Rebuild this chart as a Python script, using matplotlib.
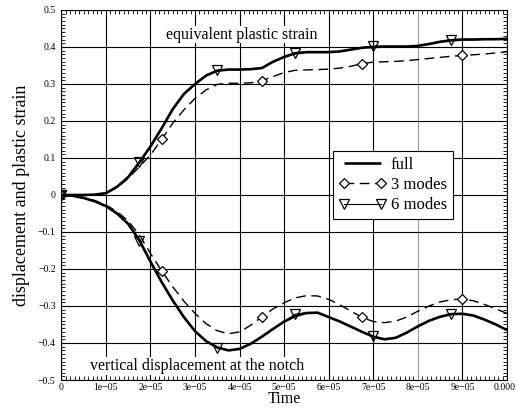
import matplotlib
matplotlib.use("Agg")
import matplotlib.pyplot as plt
import matplotlib.transforms as mtransforms
from matplotlib.ticker import AutoMinorLocator, FixedLocator, FixedFormatter

# sample times (s), step 2.5e-6
time = [k * 2.5e-6 for k in range(41)]

# equivalent plastic strain
strain_full = [0.0, 0.0, 0.0, 0.001, 0.005, 0.022, 0.048, 0.088, 0.131, 0.180,
               0.232, 0.273, 0.300, 0.323, 0.336, 0.339, 0.339, 0.340, 0.343, 0.360,
               0.373, 0.383, 0.386, 0.386, 0.386, 0.388, 0.393, 0.398, 0.400, 0.401,
               0.401, 0.401, 0.403, 0.408, 0.414, 0.418, 0.420, 0.420, 0.421, 0.421,
               0.422]
strain_3 = [0.0, 0.0, 0.0, 0.001, 0.005, 0.020, 0.045, 0.076, 0.108, 0.150,
            0.194, 0.230, 0.261, 0.284, 0.299, 0.302, 0.302, 0.303, 0.309, 0.320,
            0.331, 0.337, 0.338, 0.339, 0.340, 0.343, 0.348, 0.355, 0.359, 0.360,
            0.361, 0.363, 0.366, 0.369, 0.372, 0.375, 0.377, 0.379, 0.381, 0.384,
            0.387]
strain_6 = [0.0, 0.0, 0.0, 0.001, 0.005, 0.022, 0.050, 0.090, 0.132, 0.180,
            0.231, 0.272, 0.299, 0.322, 0.337, 0.339, 0.339, 0.340, 0.344, 0.361,
            0.374, 0.385, 0.386, 0.386, 0.386, 0.388, 0.393, 0.398, 0.402, 0.402,
            0.402, 0.402, 0.404, 0.409, 0.415, 0.420, 0.421, 0.421, 0.421, 0.421,
            0.422]

# vertical displacement at the notch
disp_full = [0.0, -0.002, -0.008, -0.017, -0.030, -0.050, -0.078, -0.122, -0.180, -0.235,
             -0.285, -0.330, -0.368, -0.395, -0.412, -0.420, -0.416, -0.402, -0.383, -0.362,
             -0.342, -0.327, -0.319, -0.318, -0.330, -0.342, -0.356, -0.370, -0.383, -0.390,
             -0.386, -0.372, -0.355, -0.340, -0.329, -0.322, -0.321, -0.326, -0.337, -0.350,
             -0.365]
disp_3 = [0.0, -0.002, -0.007, -0.015, -0.027, -0.045, -0.070, -0.108, -0.158, -0.205,
          -0.248, -0.287, -0.320, -0.348, -0.367, -0.375, -0.370, -0.352, -0.329, -0.308,
          -0.291, -0.278, -0.272, -0.273, -0.282, -0.297, -0.314, -0.331, -0.342, -0.345,
          -0.341, -0.330, -0.314, -0.300, -0.289, -0.283, -0.281, -0.286, -0.296, -0.308,
          -0.320]
disp_6 = [0.0, -0.002, -0.008, -0.017, -0.030, -0.050, -0.079, -0.125, -0.182, -0.236,
          -0.286, -0.331, -0.368, -0.396, -0.413, -0.420, -0.416, -0.402, -0.383, -0.362,
          -0.342, -0.322, -0.318, -0.318, -0.330, -0.342, -0.356, -0.370, -0.382, -0.390,
          -0.386, -0.372, -0.355, -0.340, -0.329, -0.322, -0.321, -0.326, -0.337, -0.350,
          -0.365]

x_ticks = [k * 1e-5 for k in range(11)]
x_labels = ["0", "1e\u221205", "2e\u221205", "3e\u221205", "4e\u221205", "5e\u221205",
            "6e\u221205", "7e\u221205", "8e\u221205", "9e\u221205", "0.000"]
y_ticks = [0.5, 0.4, 0.3, 0.2, 0.1, 0.0, -0.1, -0.2, -0.3, -0.4, -0.5]
y_labels = ["0.5", "0.4", "0.3", "0.2", "0.1", "0", "\u22120.1", "\u22120.2",
            "\u22120.3", "\u22120.4", "\u22120.5"]

plt.rcParams["font.family"] = ["Liberation Serif", "DejaVu Serif"]

fig = plt.figure(figsize=(5.17, 4.09), dpi=100)
ax = fig.add_axes([0.1186, 0.0709, 0.8621, 0.9047])

full_style = dict(color="black", lw=1.9, solid_capstyle="butt")
three_style = dict(color="black", lw=1.0, dashes=(7, 4), marker="D", ms=5.5,
                   mfc="white", mec="black", mew=0.9, markevery=9)
six_style = dict(color="black", lw=0.8, marker="v", ms=7.5,
                 mfc="none", mec="black", mew=0.9, markevery=7)

ax.plot(time, strain_3, **three_style)
ax.plot(time, disp_3, label="3 modes", **three_style)
ax.plot(time, strain_6, **six_style)
ax.plot(time, disp_6, label="6 modes", **six_style)
ax.plot(time, strain_full, **full_style)
ax.plot(time, disp_full, label="full", **full_style)

ax.set_xlim(0, 1e-4)
ax.set_ylim(-0.5, 0.5)

ax.xaxis.set_major_locator(FixedLocator(x_ticks))
ax.xaxis.set_major_formatter(FixedFormatter(x_labels))
ax.yaxis.set_major_locator(FixedLocator(y_ticks))
ax.yaxis.set_major_formatter(FixedFormatter(y_labels))
ax.xaxis.set_minor_locator(AutoMinorLocator(10))
ax.yaxis.set_minor_locator(AutoMinorLocator(10))
ax.tick_params(which="both", direction="in", top=True, right=True,
               labelsize=7, width=0.6)
ax.tick_params(axis="x", which="major", length=0, pad=2.5)
ax.tick_params(axis="y", which="major", length=0, pad=4)
ax.tick_params(which="minor", length=3)

# last x tick label sits against the right edge of the figure
last = ax.get_xticklabels()[-1]
last.set_horizontalalignment("right")
last.set_transform(last.get_transform() +
                   mtransforms.ScaledTranslation(0.09, 0, fig.dpi_scale_trans))

ax.grid(True, which="major", color="black", lw=0.8)
for i, gl in enumerate(ax.get_xgridlines()):
    if i == 8:
        gl.set_color("0.6")
for gl in ax.get_ygridlines():
    if abs(abs(gl.get_ydata()[0]) - 0.3) < 1e-9:
        gl.set_color("0.6")
ax.set_axisbelow(True)
for s in ax.spines.values():
    s.set_linewidth(0.8)

ax.text(4.04e-5, 0.433, "equivalent plastic strain", ha="center", va="center",
        fontsize=11.5, bbox=dict(facecolor="white", edgecolor="none", pad=0.5))
ax.text(3.04e-5, -0.462, "vertical displacement at the notch", ha="center",
        va="center", fontsize=11.5,
        bbox=dict(facecolor="white", edgecolor="none", pad=0.5))

ax.set_xlabel("Time", fontsize=11.5, labelpad=-1)
ax.set_ylabel("displacement and plastic strain", fontsize=13, labelpad=6)

handles, labels = ax.get_legend_handles_labels()
order = [labels.index("full"), labels.index("3 modes"), labels.index("6 modes")]
leg = ax.legend([handles[i] for i in order], [labels[i] for i in order],
                loc="upper left", bbox_to_anchor=(0.610, 0.618), fontsize=12,
                numpoints=2, handlelength=2.8, handletextpad=0.3,
                borderpad=0.35, labelspacing=0.25, fancybox=False,
                framealpha=1, edgecolor="black", borderaxespad=0)
leg.get_frame().set_linewidth(0.8)

fig.savefig("out.png", dpi=100)
